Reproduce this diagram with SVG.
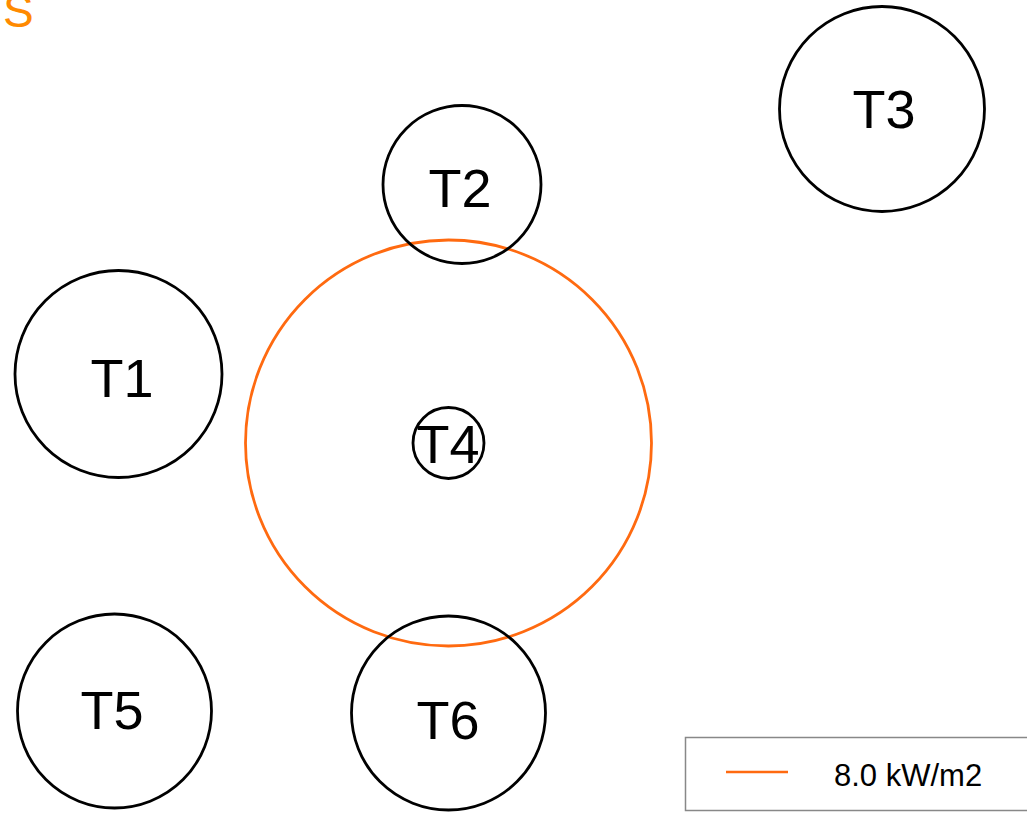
<svg xmlns="http://www.w3.org/2000/svg" width="1027" height="813" viewBox="0 0 1027 813">
<style>
.tank{fill:none;stroke:#000;stroke-width:2.8}
.lbl{font-family:"Liberation Sans",Arial,sans-serif;font-size:54px;fill:#000;text-anchor:middle}
.zone{fill:none;stroke:#FF6A10;stroke-width:2.8}
</style>
<rect width="1027" height="813" fill="#fff"/>
<text x="3" y="27" font-family="Liberation Sans,Arial,sans-serif" font-size="46" fill="#FF8A00">S</text>
<g id="connectors"></g>
<g id="zone-T4"><circle class="zone" cx="448.5" cy="443" r="203"/></g>
<g id="T1"><circle class="tank" cx="118.5" cy="374" r="103.5"/><text class="lbl" x="122" y="397">T1</text></g>
<g id="T2"><circle class="tank" cx="462" cy="184.5" r="79"/><text class="lbl" x="460" y="207">T2</text></g>
<g id="T3"><circle class="tank" cx="882" cy="109" r="102.5"/><text class="lbl" x="884" y="128">T3</text></g>
<g id="T4"><circle class="tank" cx="448.5" cy="443" r="35.5"/><text class="lbl" x="448" y="463">T4</text></g>
<g id="T5"><circle class="tank" cx="114.5" cy="711" r="97"/><text class="lbl" x="112" y="729">T5</text></g>
<g id="T6"><circle class="tank" cx="448.5" cy="713" r="97"/><text class="lbl" x="448" y="739">T6</text></g>
<g id="legend">
<rect x="685.5" y="737.5" width="345" height="73" fill="#fff" stroke="#888" stroke-width="1.5"/>
<line x1="726" y1="772" x2="788" y2="772" stroke="#FF6A10" stroke-width="2.5"/>
<text x="834" y="786" font-family="Liberation Sans,Arial,sans-serif" font-size="31" fill="#000">8.0 kW/m2</text>
</g>
</svg>
